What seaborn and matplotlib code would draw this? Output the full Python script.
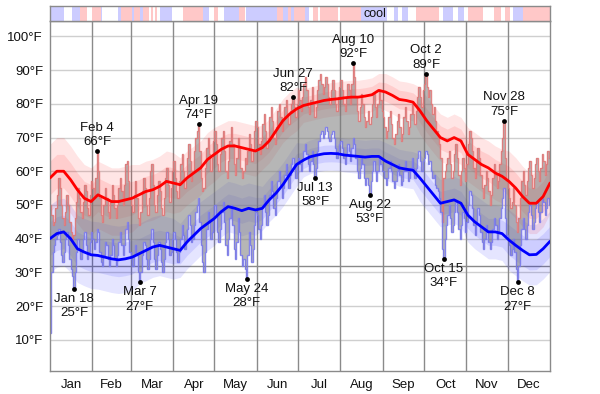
import numpy as np
import pandas as pd
import matplotlib
matplotlib.use("Agg")
import matplotlib.pyplot as plt
import seaborn as sns

# ---------------- data ----------------
months = ["Jan", "Feb", "Mar", "Apr", "May", "Jun", "Jul", "Aug", "Sep", "Oct", "Nov", "Dec"]
month_lengths = [31, 28, 31, 30, 31, 30, 31, 31, 30, 31, 30, 31]

high_jan = [50,47,44,45,49,53,58,55,50,46,44,48,53,50,45,42,40,41,46,51,55,52,48,46,51,56,54,49,47,53,57]
low_jan  = [12,30,36,38,40,41,43,39,35,33,36,40,42,38,34,31,29,25,30,36,40,37,34,36,40,42,38,34,36,39,42]
high_feb = [55,52,58,66,60,52,47,45,50,55,52,48,46,51,56,53,49,46,50,55,58,54,50,56,62,63,57,52]
low_feb  = [40,37,39,43,42,36,33,32,35,39,38,34,32,35,40,38,34,32,35,39,42,38,35,38,43,45,40,36]
high_mar = [50,48,53,57,52,46,44,48,54,58,55,50,47,52,60,62,56,50,48,53,57,54,49,47,52,58,61,56,51,55,60]
low_mar  = [34,32,35,38,35,30,27,30,35,39,38,34,31,34,40,43,39,34,31,35,39,37,33,30,34,39,42,40,35,36,40]
high_apr = [63,58,54,52,57,62,65,60,55,58,64,68,63,57,60,66,70,72,74,66,58,54,55,61,67,70,65,60,64,69]
low_apr  = [42,40,36,33,36,40,44,41,37,39,43,47,44,39,40,44,48,50,52,45,38,33,30,36,43,48,45,40,42,47]
high_may = [72,68,62,60,65,70,72,66,60,58,63,69,73,68,62,59,64,70,67,61,58,60,64,62,66,71,68,63,66,72,75]
low_may  = [50,47,42,39,43,48,51,45,38,35,40,46,50,44,37,34,39,46,42,35,32,34,31,28,35,42,38,33,37,44,48]
high_jun = [73,68,65,69,74,77,72,67,70,76,79,75,70,68,73,78,80,76,72,75,79,81,77,74,78,80,82,79,76,80]
low_jun  = [47,43,40,44,50,53,48,44,47,53,57,54,49,47,52,57,60,56,52,55,59,62,58,55,59,62,64,61,58,62]
high_jul = [84,81,78,82,86,88,84,79,77,81,85,80,76,79,84,87,89,86,83,85,88,86,82,80,84,87,84,80,78,82,85]
low_jul  = [64,62,60,63,66,68,65,62,60,63,66,62,58,61,66,69,71,72,70,71,73,72,70,69,71,72,70,67,64,66,68]
high_aug = [87,84,80,78,82,86,84,80,86,92,88,82,78,75,79,83,80,76,73,75,78,74,76,80,83,79,76,80,84,81,78]
low_aug  = [69,67,64,62,65,68,66,63,67,70,68,64,60,58,61,64,62,58,56,58,56,53,57,60,63,60,57,60,64,62,60]
high_sep = [76,73,70,72,76,78,74,70,68,71,75,77,73,69,71,76,79,75,71,73,77,80,77,74,78,82,85,82,79,84]
low_sep  = [60,58,56,58,61,63,60,57,55,57,60,62,59,56,57,60,63,60,57,58,61,64,61,58,61,64,66,63,60,63]
high_oct = [86,89,85,82,84,80,77,79,75,72,70,68,64,45,58,60,62,64,66,62,58,60,65,68,64,59,56,60,64,61,57]
low_oct  = [64,66,65,62,63,60,58,59,56,55,54,52,48,37,34,40,44,47,50,46,42,44,48,51,48,43,40,44,48,46,42]
high_nov = [62,68,72,70,66,61,58,63,67,64,59,55,52,56,60,58,54,50,53,58,62,59,55,57,62,66,70,75,64,57]
low_nov  = [45,50,54,53,49,44,41,45,49,47,42,39,37,40,44,42,39,37,39,43,46,44,40,42,46,49,52,55,46,41]
high_dec = [55,52,49,51,55,50,45,42,46,52,57,60,56,53,57,61,63,59,55,58,62,64,60,57,61,65,63,59,62,66,64]
low_dec  = [40,38,35,37,40,36,31,27,32,38,43,46,43,40,44,48,50,47,43,45,49,51,48,45,48,52,51,47,49,52,50]

# normals sampled every 5 days (day 0 ... 365)
norm_days = list(range(0, 366, 5))
norm_high = [58,60,60,57.5,54.5,52,51,53,52,51,51,51.5,52,53,54,54.5,55.5,57,56.5,56,
             58,59.5,61,63.5,65,66.5,67.5,67.5,67,66.5,66,67,69,72,75,77,78.5,79.5,80,80.5,
             81,81.3,81.5,81.8,82,82,82.3,82.7,84,83.5,82.5,81.3,81,80.5,78,75,72.5,70,69,70,
             69,65,63.5,62,61,59.5,58.5,57,55,52.5,50.5,50.5,52.5,56.5]
norm_low = [40,41.5,42,40,37,36,35.2,35,34.5,34,33.7,34,34.5,35.5,36.5,37.5,38,37.5,37,36.5,
            39,41,43,44.5,46,48,49.5,49,48.3,49,48.5,49,51.5,53.5,56,59,62,63.3,64.3,64.8,
            65.2,65.3,65.2,64.8,64.6,64.4,64.2,64.4,64.4,63,62,61,60.6,60.3,58,55.5,53,50.5,51,51.5,
            50.5,47,45,43.5,42,42,41.5,39.6,38,36.5,35.2,35.3,37,39.2]
norm_spread = [10,10,10,10,10,10,10, 10,10,10,10,10,10, 9,9,9,9,9,9, 8,8,8,8,8,8,
               7.5,7.5,7.5,7.5,7.5,7.5, 6.5,6.5,6.5,6.5,6.5,6.5,
               5,5,5,5,5,5,5,5,5,5,5,5, 5.5,5.5,5.5,5.5,5.5,
               7,7,7,7,7,7,7, 8,8,8,8,8,8, 9,9,9,9,9,9,9]

y_ticks = [10, 20, 30, 40, 50, 60, 70, 80, 90, 100]
freezing_line = 32

ann_labels = ["Jan 18", "Feb 4", "Mar 7", "Apr 19", "May 24", "Jun 27", "Jul 13",
              "Aug 10", "Aug 22", "Oct 2", "Oct 15", "Nov 28", "Dec 8"]
ann_days = [17, 34, 65, 108, 143, 177, 193, 221, 233, 274, 287, 331, 341]
ann_values = [25, 66, 27, 74, 28, 82, 58, 92, 53, 89, 34, 75, 27]
ann_kind = ["low", "high", "low", "high", "low", "high", "low", "high", "low", "high", "low", "high", "low"]

# top strip (non-white segments, inclusive day ranges)
strip_start = [0, 16, 22, 31, 37, 50, 52, 60, 61, 66, 68, 74, 77, 80, 97, 112, 120, 127, 138, 143,
               166, 170, 174, 176, 178, 186, 192, 197, 212, 227, 251, 257, 267, 287, 298, 305, 324,
               332, 338, 345]
strip_end = [9, 21, 26, 36, 37, 51, 59, 60, 65, 67, 71, 74, 77, 88, 111, 115, 122, 137, 141, 165,
             169, 173, 175, 177, 185, 188, 195, 209, 226, 245, 253, 260, 283, 293, 301, 315, 328,
             335, 344, 364]
strip_kind = ["cool", "cool", "warm", "warm", "cool", "cool", "warm", "cool", "warm", "cool", "warm",
              "warm", "warm", "cool", "warm", "cool", "warm", "cool", "warm", "cool",
              "warm", "cool", "warm", "cool", "warm", "cool", "warm", "warm", "warm", "cool", "cool",
              "cool", "warm", "cool", "cool", "warm", "warm", "warm", "cool", "warm"]
strip_label = "cool"
strip_label_day = 237

# ---------------- assemble ----------------
daily_high = np.array(high_jan + high_feb + high_mar + high_apr + high_may + high_jun +
                      high_jul + high_aug + high_sep + high_oct + high_nov + high_dec, dtype=float)
daily_low = np.array(low_jan + low_feb + low_mar + low_apr + low_may + low_jun +
                     low_jul + low_aug + low_sep + low_oct + low_nov + low_dec, dtype=float)
n_days = len(daily_high)
day_idx = np.arange(n_days)
month_bounds = np.cumsum([0] + month_lengths)
month_mid = (month_bounds[:-1] + month_bounds[1:]) / 2.0

nd = np.array(norm_days, dtype=float)
nh = np.array(norm_high)
nl = np.array(norm_low)
sp = np.array(norm_spread)

sns.set_theme(style="white")
plt.rcParams["font.family"] = ["Liberation Sans", "DejaVu Sans"]

fig = plt.figure(figsize=(6.0, 3.94), dpi=100)
W, H = 600.0, 394.0
ax = fig.add_axes([50 / W, (H - 370.7) / H, 500 / W, (370.7 - 21.3) / H])
axs = fig.add_axes([50 / W, (H - 21.3) / H, 500 / W, 15.3 / H])

# grid
for t in y_ticks:
    ax.axhline(t, color="#cfcfcf", lw=1, zorder=0.2)
ax.axhline(freezing_line, color="#8a8a8a", lw=1, zorder=0.3)
for b in month_bounds[1:-1]:
    ax.axvline(b, color="#8a8a8a", lw=1, zorder=0.3)

# normal bands
ax.fill_between(nd, nh - sp, nh + sp, color=(1, 0, 0), alpha=0.10, lw=0, zorder=1)
ax.fill_between(nd, nh - sp / 2, nh + sp / 2, color=(1, 0, 0), alpha=0.10, lw=0, zorder=1)
ax.fill_between(nd, nl - sp, nl + sp, color=(0, 0, 1), alpha=0.10, lw=0, zorder=1)
ax.fill_between(nd, nl - sp / 2, nl + sp / 2, color=(0, 0, 1), alpha=0.10, lw=0, zorder=1)

# daily bars
ax.bar(day_idx + 0.5, daily_high - daily_low, bottom=daily_low, width=1.0,
       color="#7a7a7a", alpha=0.55, lw=0, zorder=2)
edges = np.arange(n_days + 1)
ax.stairs(daily_high, edges, baseline=None, color="#e07878", lw=1, alpha=0.9, zorder=2.5)
ax.stairs(daily_low, edges, baseline=None, color="#7878e8", lw=1, alpha=0.9, zorder=2.5)

# normal lines
sns.lineplot(x=nd, y=nh, color="#ff0000", lw=2, ax=ax, zorder=3)
sns.lineplot(x=nd, y=nl, color="#0000ff", lw=2, ax=ax, zorder=3)

# annotations
ann_df = pd.DataFrame({"day": np.array(ann_days) + 0.5, "value": ann_values})
sns.scatterplot(data=ann_df, x="day", y="value", color="black", s=12, linewidth=0, ax=ax, zorder=5)
for lab, d, v, k in zip(ann_labels, ann_days, ann_values, ann_kind):
    txt = f"{lab}\n{v}°F"
    if k == "high":
        ax.annotate(txt, (d + 0.5, v), xytext=(0, 3), textcoords="offset pixels",
                    ha="center", va="bottom", fontsize=9.5, linespacing=1.25, color="#111111", zorder=6)
    else:
        ax.annotate(txt, (d + 0.5, v), xytext=(0, -4), textcoords="offset pixels",
                    ha="center", va="top", fontsize=9.5, linespacing=1.25, color="#111111", zorder=6)

ax.set_xlim(0, n_days)
ax.set_ylim(0.8, 104.5)
ax.set_yticks(y_ticks)
ax.set_yticklabels([f"{t}°F" for t in y_ticks])
ax.set_xticks(month_mid)
ax.set_xticklabels(months)
ax.tick_params(axis="both", length=0, labelsize=9.5, colors="#111111")
ax.tick_params(axis="y", pad=5)
ax.tick_params(axis="x", pad=6)
ax.set_xlabel("")
ax.set_ylabel("")
for s in ax.spines.values():
    s.set_color("#8a8a8a")
    s.set_linewidth(1)

# strip
strip_colors = {"warm": "#ffc8c8", "cool": "#ccccff"}
for s0, s1, k in zip(strip_start, strip_end, strip_kind):
    axs.bar(s0, 1, width=s1 - s0 + 1, bottom=0, align="edge", color=strip_colors[k], lw=0)
axs.text(strip_label_day, 0.45, strip_label, ha="center", va="center", fontsize=9, color="#111111")
axs.set_xlim(0, n_days)
axs.set_ylim(0, 1)
axs.set_xticks([])
axs.set_yticks([])
for s in axs.spines.values():
    s.set_color("#8a8a8a")
    s.set_linewidth(1)

fig.savefig("out.png", dpi=100, facecolor="white")
